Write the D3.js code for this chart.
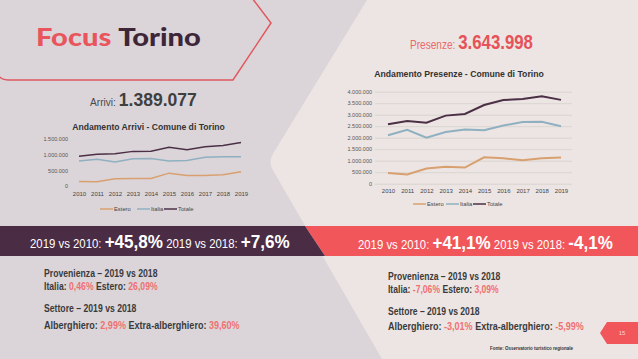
<!DOCTYPE html>
<html>
<head>
<meta charset="utf-8">
<script src="https://cdn.jsdelivr.net/npm/d3@7"></script>
<style>
body { margin: 0; background: #dcd6db; }
svg { display: block; }
text { font-family: "Liberation Sans", Arial, sans-serif; }
</style>
</head>
<body>
<svg width="638" height="359"></svg>
<script>
'use strict'

// Data
const years = [2010, 2011, 2012, 2013, 2014, 2015, 2016, 2017, 2018, 2019]
const arriviEstero = [145000, 135000, 235000, 240000, 240000, 410000, 335000, 335000, 360000, 454000]
const arriviItalia = [795000, 855000, 765000, 870000, 875000, 800000, 815000, 915000, 931000, 935000]
const arriviTotale = [953000, 1015000, 1030000, 1105000, 1110000, 1235000, 1160000, 1255000, 1291000, 1389077]
const presenzeEstero = [470000, 400000, 660000, 740000, 700000, 1150000, 1110000, 1020000, 1110000, 1144000]
const presenzeItalia = [2110000, 2340000, 2000000, 2250000, 2360000, 2320000, 2530000, 2680000, 2690000, 2500000]
const presenzeTotale = [2583000, 2730000, 2650000, 2960000, 3030000, 3420000, 3640000, 3680000, 3800000, 3643998]
const arriviTicks = [0, 500000, 1000000, 1500000]
const presenzeTicks = [0, 500000, 1000000, 1500000, 2000000, 2500000, 3000000, 3500000, 4000000]
const seriesNames = ['Estero', 'Italia', 'Totale']
const seriesColors = ['#d9a06f', '#8fb0c0', '#4b2f45']

const locale = d3.formatLocale({ decimal: ',', thousands: '.', grouping: [3], currency: ['', '€'] })
const fmt = locale.format(',d')

const svg = d3.select('svg')

// Squeeze/stretch a text horizontally to a given width, around anchor x
function fit(t, w, ax) {
	const b = t.node().getBBox()
	const k = w / b.width
	const a = ax === undefined ? b.x : ax
	t.attr('transform', `translate(${a},0) scale(${k},1) translate(${-a},0)`)
	return t
}

// Background shapes
svg.append('rect').attr('width', 638).attr('height', 359).attr('fill', '#dbd5da')
svg.append('path')
	.attr('d', 'M367,0 L638,0 L638,359 L382,359 L274,172 Q267,162 274,152 Z')
	.attr('fill', '#ece5e3')

// Title box
svg.append('path')
	.attr('d', 'M-2,74 Q0,80 8,80 L233,80 L271,23 L252,-2')
	.attr('fill', 'none').attr('stroke', '#e0585d').attr('stroke-width', 1.5)
const title = svg.append('text').attr('x', 36).attr('y', 46)
	.style('font-family', 'Lato, sans-serif').style('font-weight', 900).style('font-size', '25px')
title.append('tspan').text('Focus ').attr('fill', '#e8555c')
title.append('tspan').text('Torino').attr('fill', '#3d2638')
fit(title, 164, 36)

// Headline numbers
const arr = svg.append('text').attr('x', 90).attr('y', 106)
arr.append('tspan').text('Arrivi: ').attr('fill', '#4a4a4a').style('font-size', '11px')
arr.append('tspan').text('1.389.077').attr('fill', '#3f3f3f').style('font-size', '19px').style('font-weight', 700)
fit(arr, 107, 90)
const pre = svg.append('text').attr('x', 410).attr('y', 49)
pre.append('tspan').text('Presenze: ').attr('fill', '#e86a6d').style('font-size', '12px')
pre.append('tspan').text('3.643.998').attr('fill', '#e65257').style('font-size', '20px').style('font-weight', 700)
fit(pre, 123, 410)

// Line chart builder
function lineChart(cfg) {
	const g = svg.append('g')
	const x = d3.scalePoint().domain(years).range(cfg.xr)
	const y = d3.scaleLinear().domain([0, d3.max(cfg.ticks)]).range(cfg.yr)

	const tt = g.append('text').attr('x', cfg.titleX).attr('y', cfg.titleY).attr('text-anchor', 'middle')
		.attr('fill', '#333').style('font-size', '9.5px').style('font-weight', 700).text(cfg.title)
	fit(tt, cfg.titleW, cfg.titleX)

	const ya = g.append('g').attr('transform', `translate(${cfg.axisX},0)`)
		.call(d3.axisLeft(y).tickValues(cfg.ticks).tickFormat(fmt).tickSize(cfg.grid ? -cfg.gridW : 0).tickPadding(3))
	ya.select('.domain').remove()
	ya.selectAll('line').attr('stroke', '#d6cfcd').attr('stroke-width', 0.8)
	ya.selectAll('text').attr('fill', '#555').style('font-size', '5.5px')

	const xa = g.append('g').attr('transform', `translate(0,${cfg.yr[0]})`)
		.call(d3.axisBottom(x).tickSize(0).tickPadding(cfg.xPad))
	xa.select('.domain').remove()
	xa.selectAll('text').attr('fill', '#444').style('font-size', '6px')

	const line = d3.line().x((d, i) => x(years[i])).y((d) => y(d))
	cfg.series.forEach((s, i) => {
		g.append('path').attr('d', line(s)).attr('fill', 'none')
			.attr('stroke', seriesColors[i]).attr('stroke-width', cfg.lw)
	})

	// Legend
	cfg.legendX.forEach((lx, i) => {
		g.append('line').attr('x1', lx).attr('x2', lx + 13).attr('y1', cfg.legendY).attr('y2', cfg.legendY)
			.attr('stroke', seriesColors[i]).attr('stroke-width', 1.5)
		g.append('text').attr('x', lx + 14).attr('y', cfg.legendY + 2).attr('fill', '#444')
			.style('font-size', '5.8px').text(seriesNames[i])
	})
}

lineChart({
	title: 'Andamento Arrivi - Comune di Torino', titleX: 148.5, titleY: 130, titleW: 153,
	xr: [79, 241], yr: [186, 139], ticks: arriviTicks, axisX: 71, grid: false,
	xPad: 6, lw: 1.5,
	series: [arriviEstero, arriviItalia, arriviTotale],
	legendX: [100, 137, 164], legendY: 209,
})

lineChart({
	title: 'Andamento Presenze - Comune di Torino', titleX: 459, titleY: 77, titleW: 170,
	xr: [388, 561], yr: [183.7, 91.7], ticks: presenzeTicks, axisX: 375, grid: true, gridW: 197,
	xPad: 5.5, lw: 2,
	series: [presenzeEstero, presenzeItalia, presenzeTotale],
	legendX: [413, 446, 473], legendY: 204,
})

// Bands
svg.append('path').attr('d', 'M305,226 L638,226 L638,256 L325,256 Z').attr('fill', '#f1565b')
svg.append('path').attr('d', 'M0,226 L305,226 L325,256 L0,256 Z').attr('fill', '#4a2c45')

function band(x, y, w, a, b) {
	const t = svg.append('text').attr('x', x).attr('y', y).attr('fill', '#fff')
	t.append('tspan').text('2019 vs 2010: ').style('font-size', '12px')
	t.append('tspan').text(a).style('font-size', '18px').style('font-weight', 700)
	t.append('tspan').text(' 2019 vs 2018: ').style('font-size', '12px')
	t.append('tspan').text(b).style('font-size', '18px').style('font-weight', 700)
	fit(t, w, x)
}
band(30, 248, 260, '+45,8%', '+7,6%')
band(358, 249, 255, '+41,1%', '-4,1%')

// Detail text
function detail(x, y, w, parts) {
	const t = svg.append('text').attr('x', x).attr('y', y).style('font-size', '10px').style('font-weight', 700)
	parts.forEach((p, i) => {
		t.append('tspan').text(p).attr('fill', i % 2 ? '#f07070' : '#3a3a3a')
	})
	fit(t, w, x)
}
detail(44, 277, 114, ['Provenienza – 2019 vs 2018'])
detail(44, 290, 114, ['Italia: ', '0,46%', ' Estero: ', '26,09%'])
detail(44, 312, 93, ['Settore – 2019 vs 2018'])
detail(44, 329, 196, ['Alberghiero: ', '2,99%', ' Extra-alberghiero: ', '39,60%'])
detail(388, 280, 113, ['Provenienza – 2019 vs 2018'])
detail(388, 293, 111, ['Italia: ', '-7,06%', ' Estero: ', '3,09%'])
detail(388, 315, 92, ['Settore – 2019 vs 2018'])
detail(388, 330, 196, ['Alberghiero: ', '-3,01%', ' Extra-alberghiero: ', '-5,99%'])

// Page badge and source
svg.append('path').attr('d', 'M600,333 L607,322 L638,322 L638,344 L607,344 Z').attr('fill', '#f1565b')
svg.append('text').attr('x', 622).attr('y', 335).attr('text-anchor', 'middle').attr('fill', '#fcd3d3')
	.style('font-size', '6px').text('15')
svg.append('text').attr('x', 490).attr('y', 350).attr('fill', '#333')
	.style('font-size', '4.5px').style('font-weight', 700).text('Fonte: Osservatorio turistico regionale')
</script>
</body>
</html>
